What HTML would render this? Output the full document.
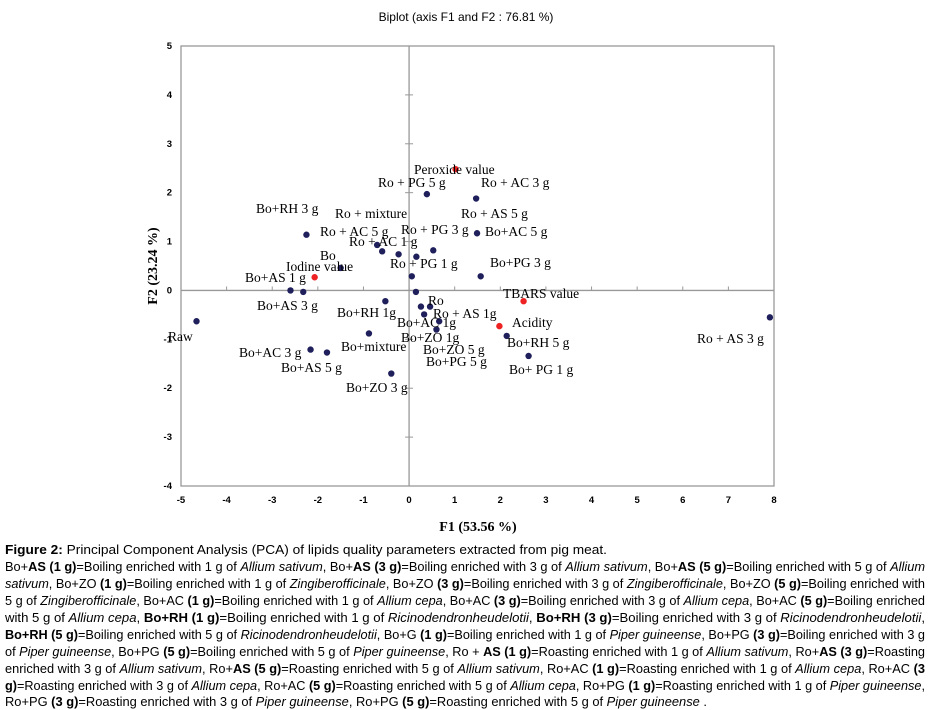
<!DOCTYPE html>
<html><head><meta charset="utf-8"><style>
body{margin:0;background:#fff;width:933px;height:710px;overflow:hidden}
svg{display:block}
.lbl{font-family:"Liberation Serif",serif;font-size:13.5px;fill:#000}
.tk{font-family:"Liberation Sans",sans-serif;font-size:9.5px;font-weight:bold;fill:#000}
.cap{font-family:"Liberation Sans",sans-serif;font-size:12.5px;fill:#000}
</style></head><body>
<svg id="chart" width="933" height="710" viewBox="0 0 933 710">
<text x="466" y="21" text-anchor="middle" font-family="Liberation Sans, sans-serif" font-size="12">Biplot (axis F1 and F2 : 76.81 %)</text>
<g id="plot"></g>
<text x="478" y="531" text-anchor="middle" font-family="Liberation Serif, serif" font-size="14" font-weight="bold">F1 (53.56 %)</text>
<text transform="translate(157,266) rotate(-90)" text-anchor="middle" font-family="Liberation Serif, serif" font-size="14" font-weight="bold">F2 (23.24 %)</text>
<g class="cap">
<text x="5" y="554" textLength="602" lengthAdjust="spacingAndGlyphs"><tspan font-weight="bold">Figure 2:</tspan> Principal Component Analysis (PCA) of lipids quality parameters extracted from pig meat.</text>
<text x="5" y="571" textLength="920" lengthAdjust="spacingAndGlyphs">Bo+<tspan font-weight="bold">AS (1 g)</tspan>=Boiling enriched with 1 g of <tspan font-style="italic">Allium sativum</tspan>, Bo+<tspan font-weight="bold">AS (3 g)</tspan>=Boiling enriched with 3 g of <tspan font-style="italic">Allium sativum</tspan>, Bo+<tspan font-weight="bold">AS (5 g)</tspan>=Boiling enriched with 5 g of <tspan font-style="italic">Allium</tspan></text>
<text x="5" y="588" textLength="920" lengthAdjust="spacingAndGlyphs"><tspan font-style="italic">sativum</tspan>, Bo+ZO <tspan font-weight="bold">(1 g)</tspan>=Boiling enriched with 1 g of <tspan font-style="italic">Zingiberofficinale</tspan>, Bo+ZO <tspan font-weight="bold">(3 g)</tspan>=Boiling enriched with 3 g of <tspan font-style="italic">Zingiberofficinale</tspan>, Bo+ZO <tspan font-weight="bold">(5 g)</tspan>=Boiling enriched with</text>
<text x="5" y="605" textLength="920" lengthAdjust="spacingAndGlyphs">5 g of <tspan font-style="italic">Zingiberofficinale</tspan>, Bo+AC <tspan font-weight="bold">(1 g)</tspan>=Boiling enriched with 1 g of <tspan font-style="italic">Allium cepa</tspan>, Bo+AC <tspan font-weight="bold">(3 g)</tspan>=Boiling enriched with 3 g of <tspan font-style="italic">Allium cepa</tspan>, Bo+AC <tspan font-weight="bold">(5 g)</tspan>=Boiling enriched</text>
<text x="5" y="622" textLength="920" lengthAdjust="spacingAndGlyphs">with 5 g of <tspan font-style="italic">Allium cepa</tspan>, <tspan font-weight="bold">Bo+RH (1 g)</tspan>=Boiling enriched with 1 g of <tspan font-style="italic">Ricinodendronheudelotii</tspan>, <tspan font-weight="bold">Bo+RH (3 g)</tspan>=Boiling enriched with 3 g of <tspan font-style="italic">Ricinodendronheudelotii</tspan>,</text>
<text x="5" y="639" textLength="920" lengthAdjust="spacingAndGlyphs"><tspan font-weight="bold">Bo+RH (5 g)</tspan>=Boiling enriched with 5 g of <tspan font-style="italic">Ricinodendronheudelotii</tspan>, Bo+G <tspan font-weight="bold">(1 g)</tspan>=Boiling enriched with 1 g of <tspan font-style="italic">Piper guineense</tspan>, Bo+PG <tspan font-weight="bold">(3 g)</tspan>=Boiling enriched with 3 g</text>
<text x="5" y="656" textLength="920" lengthAdjust="spacingAndGlyphs">of <tspan font-style="italic">Piper guineense</tspan>, Bo+PG <tspan font-weight="bold">(5 g)</tspan>=Boiling enriched with 5 g of <tspan font-style="italic">Piper guineense</tspan>, Ro + <tspan font-weight="bold">AS (1 g)</tspan>=Roasting enriched with 1 g of <tspan font-style="italic">Allium sativum</tspan>, Ro+<tspan font-weight="bold">AS (3 g)</tspan>=Roasting</text>
<text x="5" y="673" textLength="920" lengthAdjust="spacingAndGlyphs">enriched with 3 g of <tspan font-style="italic">Allium sativum</tspan>, Ro+<tspan font-weight="bold">AS (5 g)</tspan>=Roasting enriched with 5 g of <tspan font-style="italic">Allium sativum</tspan>, Ro+AC <tspan font-weight="bold">(1 g)</tspan>=Roasting enriched with 1 g of <tspan font-style="italic">Allium cepa</tspan>, Ro+AC <tspan font-weight="bold">(3</tspan></text>
<text x="5" y="690" textLength="920" lengthAdjust="spacingAndGlyphs"><tspan font-weight="bold">g)</tspan>=Roasting enriched with 3 g of <tspan font-style="italic">Allium cepa</tspan>, Ro+AC <tspan font-weight="bold">(5 g)</tspan>=Roasting enriched with 5 g of <tspan font-style="italic">Allium cepa</tspan>, Ro+PG <tspan font-weight="bold">(1 g)</tspan>=Roasting enriched with 1 g of <tspan font-style="italic">Piper guineense</tspan>,</text>
<text x="5" y="706" textLength="702" lengthAdjust="spacingAndGlyphs">Ro+PG <tspan font-weight="bold">(3 g)</tspan>=Roasting enriched with 3 g of <tspan font-style="italic">Piper guineense</tspan>, Ro+PG <tspan font-weight="bold">(5 g)</tspan>=Roasting enriched with 5 g of <tspan font-style="italic">Piper guineense</tspan> .</text>
</g>
</svg>
<script>
const xTicks=[-5,-4,-3,-2,-1,0,1,2,3,4,5,6,7,8];
const yTicks=[-4,-3,-2,-1,0,1,2,3,4,5];
const obsX=[-4.66,7.91,0.39,1.47,1.49,-2.25,-0.70,-0.59,-0.23,0.16,0.53,-1.50,0.06,1.57,-2.60,-2.32,0.15,-0.52,0.26,0.46,0.33,0.66,0.60,2.14,2.62,-0.88,-2.16,-1.80,-0.39];
const obsY=[-0.63,-0.55,1.97,1.88,1.17,1.14,0.93,0.80,0.74,0.69,0.82,0.46,0.29,0.29,0.00,-0.03,-0.03,-0.22,-0.33,-0.33,-0.49,-0.63,-0.80,-0.93,-1.34,-0.88,-1.21,-1.27,-1.70];
const varNames=["Peroxide value","Iodine value","TBARS value","Acidity"];
const varX=[1.02,-2.07,2.51,1.98];
const varY=[2.48,0.27,-0.22,-0.73];
const labels=[["Raw",168,341],["Ro + AS 3 g",697,343],["Peroxide value",414,174],["Ro + PG 5 g",378,187],["Ro + AC 3 g",481,187],["Bo+RH 3 g",256,213],["Ro + mixture",335,218],["Ro + AS 5 g",461,218],["Ro + AC 5 g",320,236],["Ro + PG 3 g",401,234],["Bo+AC 5 g",485,236],["Ro + AC 1 g",349,246],["Bo",320,260],["Ro + PG 1 g",390,268],["Bo+PG 3 g",490,267],["Iodine value",286,271],["Bo+AS 1 g",245,282],["TBARS value",503,298],["Bo+AS 3 g",257,310],["Ro",428,305],["Bo+RH 1g",337,317],["Ro + AS 1g",433,318],["Bo+AC 1g",397,327],["Acidity",512,327],["Bo+ZO 1g",401,342],["Bo+mixture",341,351],["Bo+RH 5 g",507,347],["Bo+ZO 5 g",423,354],["Bo+AC 3 g",239,357],["Bo+PG 5 g",426,366],["Bo+AS 5 g",281,372],["Bo+ PG 1 g",509,374],["Bo+ZO 3 g",346,392]];
const NS="http://www.w3.org/2000/svg";
const X0=181,X1=774,Y0=46,Y1=486;
const sx=v=>X0+(v+5)*(X1-X0)/13;
const sy=v=>Y1-(v+4)*(Y1-Y0)/9;
const g=document.getElementById('plot');
function mk(t,a){const e=document.createElementNS(NS,t);for(const k in a)e.setAttribute(k,a[k]);g.appendChild(e);return e;}
let e=mk('rect',{x:X0,y:Y0,width:X1-X0,height:Y1-Y0,fill:'none',stroke:'#999','stroke-width':1.3});


e=mk('line',{x1:X0,x2:X1,y1:sy(0),y2:sy(0),stroke:'#999','stroke-width':1.3});


e=mk('line',{x1:sx(0),x2:sx(0),y1:Y0,y2:Y1,stroke:'#999','stroke-width':1.3});


xTicks.forEach(v=>{
 e=mk('line',{x1:sx(v),x2:sx(v),y1:sy(0)-4,y2:sy(0),stroke:'#999'});
 
 
 e=mk('text',{x:sx(v),y:503,'text-anchor':'middle',class:'tk'});e.textContent=v;
 
 
});
yTicks.forEach(v=>{
 e=mk('line',{x1:sx(0)-4,x2:sx(0)+4,y1:sy(v),y2:sy(v),stroke:'#999'});
 
 
 e=mk('text',{x:172,y:sy(v)+3,'text-anchor':'end',class:'tk'});e.textContent=v;
 
 
});
obsX.forEach((v,i)=>{
 e=mk('circle',{cx:sx(v),cy:sy(obsY[i]),r:3.2,fill:'#1f1f5c'});
 
 
});
varX.forEach((v,i)=>{
 e=mk('circle',{cx:sx(v),cy:sy(varY[i]),r:3.2,fill:'#ee2222'});
 
 
});
labels.forEach(l=>{
 e=mk('text',{x:l[1],y:l[2],class:'lbl'});e.textContent=l[0];
 
 
});
</script>
</body></html>
